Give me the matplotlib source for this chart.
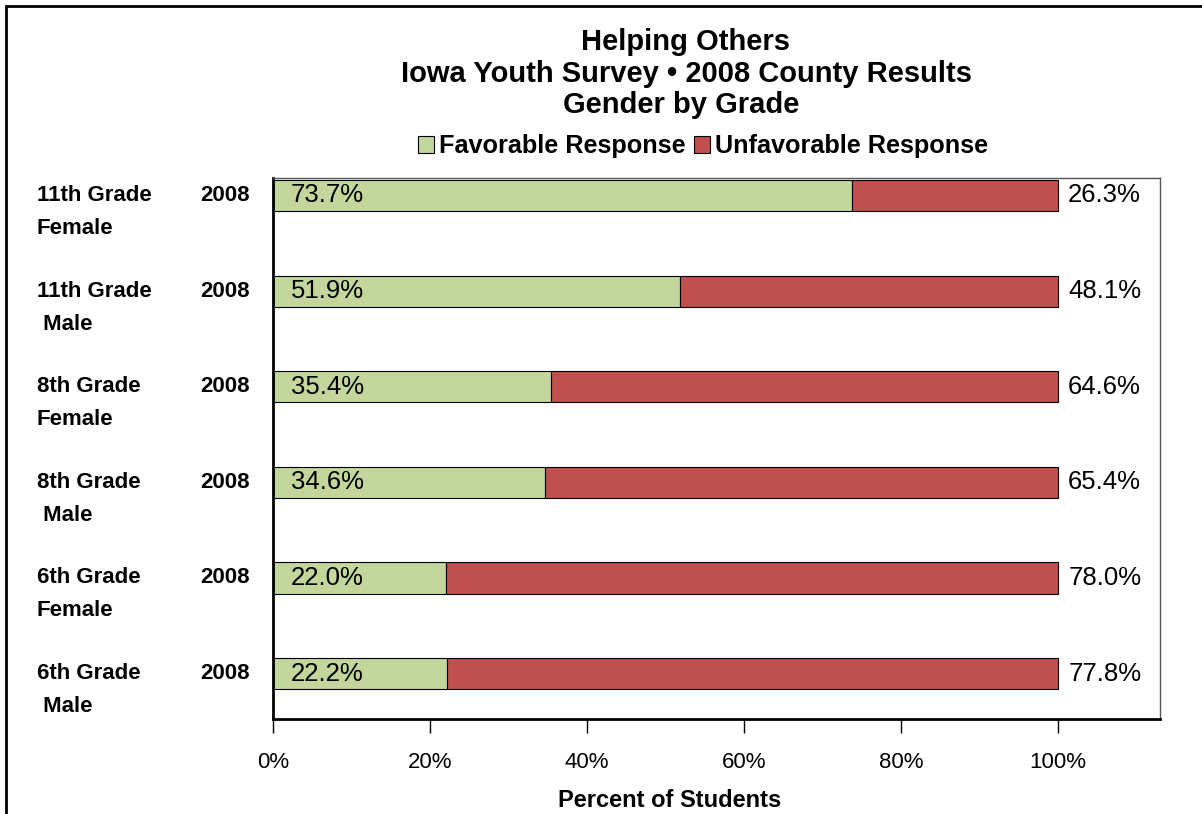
import numpy as np
import matplotlib
matplotlib.use('Agg')
import matplotlib.pyplot as plt
from matplotlib.patches import Rectangle

plt.rcParams['font.family'] = ['Liberation Sans', 'DejaVu Sans']

# data
grades = ['11th Grade', '11th Grade', '8th Grade', '8th Grade', '6th Grade', '6th Grade']
genders = ['Female', ' Male', 'Female', ' Male', 'Female', ' Male']
years = ['2008'] * 6
favorable = [73.7, 51.9, 35.4, 34.6, 22.0, 22.2]
unfavorable = [26.3, 48.1, 64.6, 65.4, 78.0, 77.8]
xticks = [0, 20, 40, 60, 80, 100]

green = '#C3D69B'
red = '#C0504D'

fig = plt.figure(figsize=(12.02, 8.14), dpi=100)
W, H = 1202, 814

# outer frame
fig.add_artist(Rectangle((6 / W, -0.1), 1.1, (H - 6) / H + 0.1, transform=fig.transFigure,
                         fill=False, edgecolor='black', linewidth=2))

ax = fig.add_axes([273 / W, 1 - 719 / H, (1160 - 273) / W, (719 - 178) / H])
y = np.arange(len(grades))
ax.barh(y, favorable, height=0.325, color=green, edgecolor='black', linewidth=0.8)
ax.barh(y, unfavorable, left=favorable, height=0.325, color=red, edgecolor='black',
        linewidth=0.8)
ax.set_ylim(5.475, -0.183)
ax.set_xlim(0, 113)

for i in range(len(grades)):
    ax.text(2.3, y[i], f'{favorable[i]:.1f}%', va='center', ha='left', fontsize=18.5)
    ax.text(101.3, y[i], f'{unfavorable[i]:.1f}%', va='center', ha='left', fontsize=18.5)
    # row labels
    ax.text(-30.1, y[i], grades[i], ha='left', va='center', fontsize=16, fontweight='bold',
            clip_on=False)
    ax.text(-30.1, y[i] + 0.345, genders[i], ha='left', va='center', fontsize=16,
            fontweight='bold', clip_on=False)
    ax.text(-2.9, y[i], years[i], ha='right', va='center', fontsize=16, fontweight='bold',
            clip_on=False)

ax.set_yticks([])
ax.set_xticks(xticks)
ax.set_xticklabels([f'{t}%' for t in xticks], fontsize=16)
ax.tick_params(axis='x', direction='out', length=10, width=1, pad=14)
ax.set_xlabel('Percent of Students', fontsize=17, fontweight='bold')
ax.xaxis.set_label_coords(0.4476, -0.15)
ax.xaxis.label.set_va('center')

for s in ['left', 'bottom']:
    ax.spines[s].set_linewidth(2)
    ax.spines[s].set_color('black')
for s in ['top', 'right']:
    ax.spines[s].set_linewidth(1)
    ax.spines[s].set_color('#555555')

# title
fig.text(685 / W, 1 - 42 / H, 'Helping Others', ha='center', va='center', fontsize=21,
         fontweight='bold')
fig.text(686 / W, 1 - 74 / H, 'Iowa Youth Survey \u2022 2008 County Results', ha='center',
         va='center', fontsize=21, fontweight='bold')
fig.text(681 / W, 1 - 105 / H, 'Gender by Grade', ha='center', va='center', fontsize=21,
         fontweight='bold')

# legend
handles = [Rectangle((0, 0), 1, 1, facecolor=green, edgecolor='black', linewidth=0.8),
           Rectangle((0, 0), 1, 1, facecolor=red, edgecolor='black', linewidth=0.8)]
leg = fig.legend(handles, ['Favorable Response', 'Unfavorable Response'], loc='center',
                 bbox_to_anchor=(703 / W, 1 - 146 / H), ncol=2, frameon=False,
                 prop={'size': 18.2, 'weight': 'bold'}, handlelength=0.65, handleheight=0.65,
                 handletextpad=0.2, columnspacing=0.3, borderpad=0)

fig.savefig('out.png', dpi=100)
